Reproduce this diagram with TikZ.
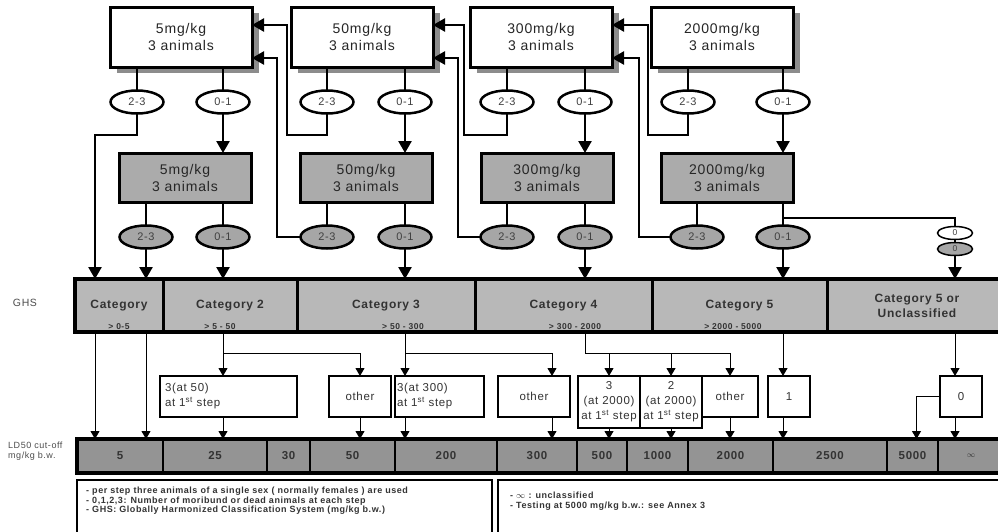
\documentclass[tikz,border=0pt]{standalone}
\usepackage{fontspec}
\setmainfont{Liberation Sans}[LetterSpace=6]
\usetikzlibrary{arrows.meta,shapes.geometric,shadows,calc}

\begin{document}
\begin{tikzpicture}[x=1pt,y=-1pt,
  basebox/.style={draw,line width=3pt,inner sep=0pt,outer sep=0pt,align=center,
    text=black!85,font=\fontsize{14}{17}\selectfont},
  dosebox/.style={basebox,fill=white,minimum width=142pt,minimum height=60pt,
    drop shadow={shadow xshift=7pt,shadow yshift=-6pt,fill=black!45,opacity=1}},
  repeatbox/.style={basebox,fill=black!33,minimum width=132pt,minimum height=49pt},
  outcome/.style={ellipse,draw,line width=2.5pt,fill=white,minimum width=53pt,
    minimum height=23pt,inner sep=0pt,outer sep=0pt,text=black!75,
    font=\fontsize{11}{11}\selectfont},
  outcomegray/.style={outcome,fill=black!35},
  zero/.style={outcome,line width=1.5pt,minimum width=35pt,minimum height=13pt,
    font=\fontsize{8.5}{8.5}\selectfont},
  catcell/.style={draw,line width=3pt,fill=black!28,minimum height=53pt,inner sep=0pt,
    outer sep=0pt,align=center,text=black!80,font=\bfseries\fontsize{12}{15}\selectfont},
  rangetext/.style={inner sep=0pt,text=black!80,font=\bfseries\fontsize{8.5}{8.5}\selectfont},
  ldcell/.style={draw,line width=2pt,fill=black!42,minimum height=34pt,inner sep=0pt,
    outer sep=0pt,text=black!80,font=\bfseries\fontsize{11.5}{12}\selectfont},
  midbox/.style={draw,line width=2.5pt,fill=white,minimum height=41pt,inner sep=1pt,
    outer sep=0pt,align=center,text=black!80,font=\fontsize{11.5}{15}\selectfont},
  side/.style={inner sep=0pt,text=black!70},
  note/.style={anchor=north west,align=left,inner sep=0pt,text=black!80,
    font=\bfseries\fontsize{9}{9.5}\selectfont},
  notebox/.style={draw,anchor=north west,inner sep=0pt,outer sep=0pt},
  flow/.style={line width=2.5pt},
  flowarrow/.style={flow,-{Triangle[width=13pt,length=12pt]}},
  link/.style={line width=1pt},
  linkarrow/.style={link,-{Triangle[width=9pt,length=8pt]}}]

  \useasboundingbox (0,0) rectangle (998,531);
  \clip (0,0) rectangle (998,531);

  % first step
  \node[dosebox] (T1) at (181,37) {5mg/kg\\3 animals};
  \node[dosebox] (T2) at (362,37) {50mg/kg\\3 animals};
  \node[dosebox] (T3) at (541,37) {300mg/kg\\3 animals};
  \node[dosebox] (T4) at (722,37) {2000mg/kg\\3 animals};

  \node[outcome] (E1a) at (137,102) {2-3};
  \node[outcome] (E1b) at (223,102) {0-1};
  \node[outcome] (E2a) at (327,102) {2-3};
  \node[outcome] (E2b) at (405,102) {0-1};
  \node[outcome] (E3a) at (507,102) {2-3};
  \node[outcome] (E3b) at (585,102) {0-1};
  \node[outcome] (E4a) at (688,102) {2-3};
  \node[outcome] (E4b) at (783,102) {0-1};

  % second step
  \node[repeatbox] (G1) at (185,177.5) {5mg/kg\\3 animals};
  \node[repeatbox] (G2) at (366,177.5) {50mg/kg\\3 animals};
  \node[repeatbox] (G3) at (547,177.5) {300mg/kg\\3 animals};
  \node[repeatbox] (G4) at (727,177.5) {2000mg/kg\\3 animals};

  \node[outcomegray] (F1a) at (146,237) {2-3};
  \node[outcomegray] (F1b) at (223,237) {0-1};
  \node[outcomegray] (F2a) at (327,237) {2-3};
  \node[outcomegray] (F2b) at (405,237) {0-1};
  \node[outcomegray] (F3a) at (507,237) {2-3};
  \node[outcomegray] (F3b) at (585,237) {0-1};
  \node[outcomegray] (F4a) at (697,237) {2-3};
  \node[outcomegray] (F4b) at (783,237) {0-1};

  \node[zero] (Z1) at (955,233) {0};
  \node[zero,fill=black!35] (Z2) at (955,249) {0};

  % GHS categories
  \node[side,font=\fontsize{10.5}{10.5}\selectfont] (ghs) at (25,303) {GHS};
  \node[catcell,minimum width=88pt]  (C1) at (119,305.5) {Category};
  \node[catcell,minimum width=134pt] (C2) at (230,305.5) {Category 2};
  \node[catcell,minimum width=178pt] (C3) at (386,305.5) {Category 3};
  \node[catcell,minimum width=177pt] (C4) at (563.5,305.5) {Category 4};
  \node[catcell,minimum width=175pt] (C5) at (739.5,305.5) {Category 5};
  \node[catcell,minimum width=180pt] (C6) at (917,305.5) {Category 5 or\\Unclassified};
  \node[rangetext] (R1) at (119,326.5) {> 0-5};
  \node[rangetext] (R2) at (220,326.5) {> 5 - 50};
  \node[rangetext] (R3) at (403,326.5) {> 50 - 300};
  \node[rangetext] (R4) at (575,326.5) {> 300 - 2000};
  \node[rangetext] (R5) at (733,326.5) {> 2000 - 5000};
  \draw[line width=4.5pt] (C1.north west) rectangle (C6.south east);

  % outcomes of the test
  \node[midbox,align=left,text width=127pt,inner xsep=5pt] (M1) at (228.5,396.5)
    {3(at 50)\\at 1\textsuperscript{st} step};
  \node[midbox,minimum width=62pt] (M2) at (360,396.5) {other};
  \node[midbox,align=left,text width=85pt,inner xsep=2pt] (M3) at (439.5,396.5)
    {3(at 300)\\at 1\textsuperscript{st} step};
  \node[midbox,minimum width=72pt] (M4) at (534,396.5) {other};
  \node[midbox,minimum width=62pt,minimum height=52pt] (M5) at (609,402)
    {3\\(at 2000)\\at 1\textsuperscript{st} step};
  \node[midbox,minimum width=62pt,minimum height=52pt] (M6) at (671,402)
    {2\\(at 2000)\\at 1\textsuperscript{st} step};
  \node[midbox,minimum width=56pt] (M7) at (730,396.5) {other};
  \node[midbox,minimum width=42pt] (M8) at (789,396.5) {1};
  \node[midbox,minimum width=42pt] (M9) at (961,396.5) {0};

  % LD50 cut-off
  \node[side,align=left,anchor=west,font=\fontsize{9}{10}\selectfont] (ldlabel) at (8,451)
    {LD50 cut-off\\mg/kg b.w.};
  \foreach \name/\cx/\w/\val in {L1/120/86/5, L2/215/104/25, L3/288.5/43/30,
      L4/352.5/85/50, L5/446/102/200, L6/537/80/300, L7/602/50/500,
      L8/657.5/61/1000, L9/730.5/85/2000, L10/830/114/2500, L11/912.5/51/5000,
      L12/971/66/{\fontsize{8}{8}\selectfont$\infty$}}
    \node[ldcell,minimum width=\w*1pt] (\name) at (\cx,456) {\val};
  \draw[line width=4pt] (L1.north west) rectangle (L12.south east);

  % notes
  \node[notebox,line width=1.5pt,minimum width=415pt,minimum height=60pt] (N1) at (77,480) {};
  \node[notebox,line width=2pt,minimum width=510pt,minimum height=60pt] (N2) at (498,480) {};
  \node[note] (N1text) at (86,487)
    {- per step three animals of a single sex ( normally females ) are used\\
     - 0,1,2,3: Number of moribund or dead animals at each step\\
     - GHS: Globally Harmonized Classification System (mg/kg b.w.)};
  \node[note] (N2text) at (510,492)
    {- $\infty$ : unclassified\\- Testing at 5000 mg/kg b.w.: see Annex 3};

  % first step to outcomes
  \foreach \blk/\lo/\hi in {T1/E1a/E1b, T2/E2a/E2b, T3/E3a/E3b, T4/E4a/E4b}{
    \draw[flow] (\lo.north |- \blk.south) -- (\lo.north);
    \draw[flow] (\hi.north |- \blk.south) -- (\hi.north);
  }
  \foreach \hi/\blk in {E1b/G1, E2b/G2, E3b/G3, E4b/G4}
    \draw[flowarrow] (\hi.south) -- (\hi.south |- \blk.north);
  \foreach \blk/\lo in {G1/F1a, G2/F2a, G3/F3a, G4/F4a}
    \draw[flow] (\lo.north |- \blk.south) -- (\lo.north);
  \foreach \blk/\hi in {G1/F1b, G2/F2b, G3/F3b}
    \draw[flow] (\hi.north |- \blk.south) -- (\hi.north);

  % back to the lower dose
  \draw[flowarrow] (E1a.south) -- ++(0,21.5) -| ([xshift=20pt]C1.north west);
  \draw[flowarrow] (E2a.south) -- ++(0,21.5) -| ([xshift=35pt,yshift=12pt]T1.east)
    -- ([yshift=12pt]T1.east);
  \draw[flowarrow] (E3a.south) -- ++(0,21.5) -| ([xshift=31pt,yshift=12pt]T2.east)
    -- ([yshift=12pt]T2.east);
  \draw[flowarrow] (E4a.south) -- ++(0,21.5) -| ([xshift=36pt,yshift=12pt]T3.east)
    -- ([yshift=12pt]T3.east);
  \draw[flowarrow] (F2a.west) -| ([xshift=25pt,yshift=-21pt]T1.east) -- ([yshift=-21pt]T1.east);
  \draw[flowarrow] (F3a.west) -| ([xshift=25pt,yshift=-21pt]T2.east) -- ([yshift=-21pt]T2.east);
  \draw[flowarrow] (F4a.west) -| ([xshift=27pt,yshift=-21pt]T3.east) -- ([yshift=-21pt]T3.east);

  % into the categories
  \draw[flowarrow] (F1a.south) -- (F1a.south |- C1.north);
  \draw[flowarrow] (F1b.south) -- (F1b.south |- C2.north);
  \draw[flowarrow] (F2b.south) -- (F2b.south |- C3.north);
  \draw[flowarrow] (F3b.south) -- (F3b.south |- C4.north);
  \draw[flowarrow] (F4b.south) -- (F4b.south |- C5.north);
  \coordinate (split5) at ($(F4b.north |- G4.south)+(0,16)$);
  \draw[flow] (F4b.north |- G4.south) -- (F4b.north);
  \draw[flow] (split5) -| (Z1.north);
  \draw[flow] (Z1.south) -- (Z2.north);
  \draw[flowarrow] (Z2.south) -- (Z2.south |- C6.north);

  % categories to outcomes
  \draw[linkarrow] ([xshift=20pt]C1.south west) -- ([xshift=18pt]L1.north west);
  \draw[linkarrow] (F1a |- C1.south) -- (F1a |- L1.north);
  \coordinate (split2) at ($(F1b |- C2.south)+(0,21)$);
  \coordinate (split3) at ($(F2b |- C3.south)+(0,21)$);
  \coordinate (split4) at ($(F3b |- C4.south)+(0,21)$);
  \draw[linkarrow] (F1b |- C2.south) -- (F1b |- M1.north);
  \draw[linkarrow] (split2) -| (M2.north);
  \draw[linkarrow] (F2b |- C3.south) -- (F2b |- M3.north);
  \draw[linkarrow] (split3) -| ([xshift=18pt]M4.north);
  \draw[link] (F3b |- C4.south) -- (split4);
  \draw[linkarrow] (split4) -| (M7.north);
  \draw[linkarrow] (M5.north |- split4) -- (M5.north);
  \draw[linkarrow] (M6.north |- split4) -- (M6.north);
  \draw[linkarrow] (F4b |- C5.south) -- (F4b |- M8.north);
  \draw[linkarrow] (Z2 |- C6.south) -- (Z2 |- M9.north);

  % outcomes to LD50 cut-off
  \draw[linkarrow] (F1b |- M1.south) -- (F1b |- L2.north);
  \draw[linkarrow] (M2.south) -- (M2.south |- L4.north);
  \draw[linkarrow] (F2b |- M3.south) -- (F2b |- L5.north);
  \draw[linkarrow] ([xshift=18pt]M4.south) -- ([xshift=18pt]M4.south |- L6.north);
  \draw[linkarrow] (M5.south) -- (M5.south |- L7.north);
  \draw[linkarrow] (M6.south) -- (M6.south |- L8.north);
  \draw[linkarrow] (M7.south) -- (M7.south |- L9.north);
  \draw[linkarrow] (F4b |- M8.south) -- (F4b |- L10.north);
  \draw[linkarrow] (M9.west) -| ([xshift=4pt]L11.north);
  \draw[linkarrow] (Z2 |- M9.south) -- (Z2 |- L12.north);
\end{tikzpicture}
\end{document}
